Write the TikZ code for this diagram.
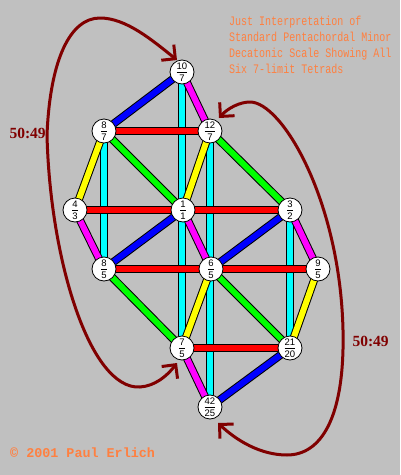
\documentclass[tikz,border=0pt]{standalone}
\usepackage{fontspec}
\usepackage{amsmath}
\usetikzlibrary{arrows.meta}
\newfontfamily\nodefont{Liberation Sans}
\newfontfamily\titlefont{Liberation Mono}
\newfontfamily\ratiofont{Liberation Serif}
\definecolor{bg}{RGB}{192,192,192}
\definecolor{arc}{RGB}{128,0,0}
\definecolor{ttl}{RGB}{255,128,64}
\definecolor{cc}{RGB}{0,255,255}
\definecolor{cm}{RGB}{255,0,255}
\definecolor{cy}{RGB}{255,255,0}
\definecolor{cg}{RGB}{0,255,0}
\definecolor{cr}{RGB}{255,0,0}
\definecolor{cb}{RGB}{0,0,255}
\newcommand{\fr}[2]{{\fontsize{9.5}{10}\selectfont$\genfrac{}{}{0.6pt}{0}{\hbox{\nodefont #1}}{\hbox{\nodefont #2}}$}}
\tikzset{
  bar/.style={draw=black, line width=1pt, double=#1, double distance=6pt},
  tone/.style={circle, draw=black, line width=0.8pt, fill=white, minimum size=24pt, inner sep=0pt},
  arcline/.style={draw=arc, line width=3pt, {Straight Barb[length=10pt,width=20pt]}-{Straight Barb[length=10pt,width=20pt]}},
  ratio/.style={text=arc, font=\ratiofont\bfseries\fontsize{15.5}{17}\selectfont},
}
\begin{document}
\begin{tikzpicture}[x=1pt,y=-1pt]
\fill[bg] (0,0) rectangle (400,475);
\useasboundingbox (0,0) rectangle (400,475);
% node positions
\coordinate (a) at (182,72);   % 10/7
\coordinate (b) at (104,131);  % 8/7
\coordinate (c) at (210,131);  % 12/7
\coordinate (d) at (75,210);   % 4/3
\coordinate (e) at (183,210);  % 1/1
\coordinate (f) at (290,210);  % 3/2
\coordinate (g) at (104,269);  % 8/5
\coordinate (h) at (211,269);  % 6/5
\coordinate (i) at (318,269);  % 9/5
\coordinate (j) at (182,348);  % 7/5
\coordinate (k) at (290,348);  % 21/20
\coordinate (l) at (210,407);  % 42/25
% cyan
\draw[bar=cc] (a) -- (j);
\draw[bar=cc] (b) -- (g);
\draw[bar=cc] (c) -- (l);
\draw[bar=cc] (f) -- (k);
% blue
\draw[bar=cb] (a) -- (b);
\draw[bar=cb] (e) -- (g);
\draw[bar=cb] (f) -- (h);
\draw[bar=cb] (k) -- (l);
% magenta
\draw[bar=cm] (a) -- (c);
\draw[bar=cm] (d) -- (g);
\draw[bar=cm] (e) -- (h);
\draw[bar=cm] (f) -- (i);
\draw[bar=cm] (j) -- (l);
% yellow
\draw[bar=cy] (b) -- (d);
\draw[bar=cy] (c) -- (e);
\draw[bar=cy] (h) -- (j);
\draw[bar=cy] (i) -- (k);
% green
\draw[bar=cg] (b) -- (e);
\draw[bar=cg] (c) -- (f);
\draw[bar=cg] (g) -- (j);
\draw[bar=cg] (h) -- (k);
% red
\draw[bar=cr] (b) -- (c);
\draw[bar=cr] (d) -- (e);
\draw[bar=cr] (e) -- (f);
\draw[bar=cr] (g) -- (h);
\draw[bar=cr] (h) -- (i);
\draw[bar=cr] (j) -- (k);
% nodes
\node[tone] (na) at (a) {\fr{10}{7}};
\node[tone] (nb) at (b) {\fr{8}{7}};
\node[tone] (nc) at (c) {\fr{12}{7}};
\node[tone] (nd) at (d) {\fr{4}{3}};
\node[tone] (ne) at (e) {\fr{1}{1}};
\node[tone] (nf) at (f) {\fr{3}{2}};
\node[tone] (ng) at (g) {\fr{8}{5}};
\node[tone] (nh) at (h) {\fr{6}{5}};
\node[tone] (ni) at (i) {\fr{9}{5}};
\node[tone] (nj) at (j) {\fr{7}{5}};
\node[tone] (nk) at (k) {\fr{21}{20}};
\node[tone] (nl) at (l) {\fr{42}{25}};
% arcs
\coordinate (la) at (177,60);
\coordinate (lb) at (177,363);
\coordinate (ra) at (219,118);
\coordinate (rb) at (218,423);
\draw[arcline] (la) .. controls (152,40) and (126,18) .. (100,18)
  .. controls (70,18) and (50,60) .. (47,135)
  .. controls (50,260) and (90,390) .. (140,387)
  .. controls (155,386) and (167,376) .. (lb);
\draw[arcline] (ra) .. controls (228,108) and (240,102) .. (250,102)
  .. controls (282,102) and (340,200) .. (343,330)
  .. controls (345,420) and (320,455) .. (287,455)
  .. controls (260,455) and (236,440) .. (rb);
\node[ratio, anchor=base west] (r1) at (6,138) {50:49};
\node[ratio, anchor=base west] (r2) at (349,346) {50:49};
% title
\node[anchor=base west, text=ttl, inner sep=0pt, align=left] (title) at (229,25)
  {\scalebox{0.77}[1]{\titlefont\fontsize{13}{16}\selectfont\begin{tabular}[t]{@{}l@{}}Just Interpretation of\\Standard Pentachordal Minor\\Decatonic Scale Showing All\\Six 7-limit Tetrads\end{tabular}}};
\node[anchor=base west, text=ttl, inner sep=0pt] (copy) at (10,457)
  {\titlefont\bfseries\fontsize{13.4}{15}\selectfont © 2001 Paul Erlich};
\end{tikzpicture}
\end{document}
